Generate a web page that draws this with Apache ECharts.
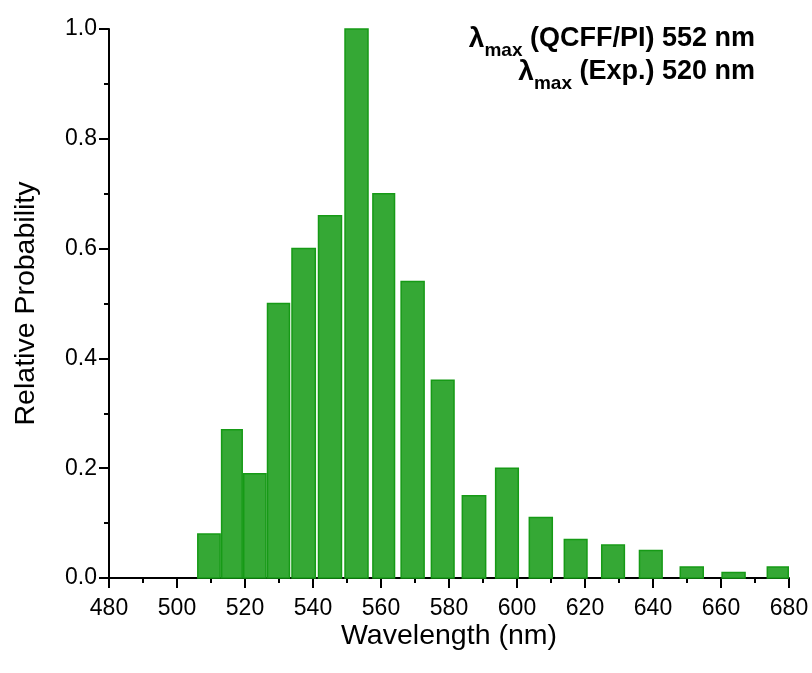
<!DOCTYPE html>
<html>
<head>
<meta charset="utf-8">
<script src="https://cdn.jsdelivr.net/npm/echarts@6/dist/echarts.min.js"></script>
<style>
html,body{margin:0;padding:0;background:#fff;}
#chart{width:812px;height:673px;}
</style>
</head>
<body>
<div id="chart"></div>
<script>
// Histogram bins (wavelength edges in nm) and relative probability
const binStart = [505.9, 512.9, 519.4, 526.4, 533.6, 541.4, 549.2, 557.4, 565.7, 574.6, 583.7, 593.5, 603.4, 613.7, 624.7, 635.8, 647.8, 660.1, 673.4];
const binEnd   = [512.9, 519.4, 526.4, 533.3, 540.9, 548.6, 556.4, 564.2, 572.9, 581.7, 591.0, 600.6, 610.6, 620.8, 631.8, 642.9, 655.0, 667.3, 680.0];
const probability = [0.08, 0.27, 0.19, 0.50, 0.60, 0.66, 1.00, 0.70, 0.54, 0.36, 0.15, 0.20, 0.11, 0.07, 0.06, 0.05, 0.02, 0.01, 0.02];
const xTicks = {min: 480, max: 680, interval: 20};
const yTicks = {min: 0, max: 1, interval: 0.2};
const annotation1 = ['λ', 'max', ' (QCFF/PI) 552 nm'];
const annotation2 = ['λ', 'max', ' (Exp.) 520 nm'];

const data = binStart.map((s, i) => [s, binEnd[i], probability[i]]);
const FONT = '"Liberation Sans", Arial, sans-serif';

const chart = echarts.init(document.getElementById('chart'), null, {renderer: 'canvas'});

function richLabel(parts) {
  return '{l|' + parts[0] + '}{s|' + parts[1] + '}{t|' + parts[2] + '}';
}
const richStyle = {
  l: {fontSize: 28, fontWeight: 'bold', fontFamily: FONT, lineHeight: 28, verticalAlign: 'top', fill: '#000'},
  t: {fontSize: 27, fontWeight: 'bold', fontFamily: FONT, lineHeight: 28, verticalAlign: 'top', fill: '#000'},
  s: {fontSize: 19, fontWeight: 'bold', fontFamily: FONT, lineHeight: 19, verticalAlign: 'top', padding: [16, 0, 0, 0], fill: '#000'}
};

const option = {
  backgroundColor: '#fff',
  animation: false,
  grid: {left: 109, right: 23, top: 29, bottom: 95},
  xAxis: {
    type: 'value',
    min: xTicks.min, max: xTicks.max, interval: xTicks.interval,
    name: 'Wavelength (nm)',
    nameLocation: 'middle',
    nameGap: 44,
    nameMoveOverlap: false,
    nameTextStyle: {fontSize: 28.5, fontFamily: FONT, color: '#000'},
    axisLine: {show: true, onZero: false, lineStyle: {color: '#000', width: 2}},
    axisTick: {show: true, inside: false, length: 10, lineStyle: {color: '#000', width: 2}},
    minorTick: {show: true, splitNumber: 2, length: 5, lineStyle: {color: '#000', width: 2}},
    axisLabel: {fontSize: 23, fontFamily: FONT, color: '#000', margin: 19},
    splitLine: {show: false},
    minorSplitLine: {show: false}
  },
  yAxis: {
    type: 'value',
    min: yTicks.min, max: yTicks.max, interval: yTicks.interval,
    name: 'Relative Probability',
    nameLocation: 'middle',
    nameGap: 68,
    nameMoveOverlap: false,
    nameTextStyle: {fontSize: 28.5, fontFamily: FONT, color: '#000'},
    axisLine: {show: true, lineStyle: {color: '#000', width: 2}},
    axisTick: {show: true, inside: false, length: 10, lineStyle: {color: '#000', width: 2}},
    minorTick: {show: true, splitNumber: 2, length: 5, lineStyle: {color: '#000', width: 2}},
    axisLabel: {fontSize: 23, fontFamily: FONT, color: '#000', margin: 12,
      formatter: v => v.toFixed(1)},
    splitLine: {show: false},
    minorSplitLine: {show: false}
  },
  series: [{
    type: 'custom',
    data: data,
    encode: {x: [0, 1], y: 2},
    renderItem: function (params, api) {
      const p0 = api.coord([api.value(0), api.value(2)]);
      const p1 = api.coord([api.value(1), 0]);
      return {
        type: 'rect',
        shape: {x: p0[0] + 0.75, y: p0[1], width: p1[0] - p0[0] - 1.5, height: p1[1] - p0[1]},
        style: {fill: '#35a835', stroke: '#169a16', lineWidth: 1.5}
      };
    },
    z: 1
  }],
  graphic: [
    {type: 'text', right: 57, top: 25, z: 10,
      style: {text: richLabel(annotation1), rich: richStyle}},
    {type: 'text', right: 57, top: 58, z: 10,
      style: {text: richLabel(annotation2), rich: richStyle}}
  ]
};
chart.setOption(option);
</script>
</body>
</html>
